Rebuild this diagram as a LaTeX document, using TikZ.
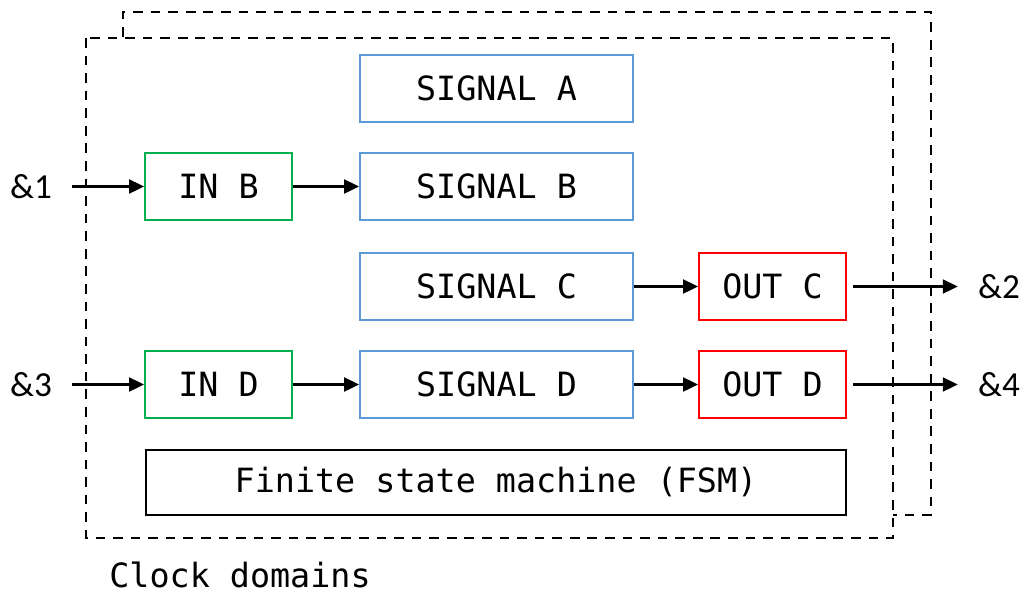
\documentclass[tikz,border=0pt]{standalone}
\usepackage{fontspec}
\setmonofont{DejaVu Sans Mono}
\setsansfont{Carlito}
\usetikzlibrary{arrows.meta}
\definecolor{sigblue}{HTML}{5B9BD5}
\definecolor{ingreen}{HTML}{00B050}
\definecolor{outred}{HTML}{FF0000}
\begin{document}
\begin{tikzpicture}[x=0.02cm,y=-0.02cm,
    box/.style={draw,line width=1.1pt,inner sep=0pt,minimum height=1.34cm,
                font=\ttfamily\fontsize{19}{23}\selectfont},
    sigbox/.style={box,draw=sigblue,minimum width=5.46cm},
    inbox/.style={box,draw=ingreen,minimum width=2.94cm},
    outbox/.style={box,draw=outred,minimum width=2.94cm},
    port/.style={inner sep=0.4cm,font=\sffamily\fontsize{20}{24}\selectfont},
    frame/.style={line width=1.4pt,dash pattern=on 5.5pt off 4.5pt},
    link/.style={line width=1.2pt,-{Triangle[length=0.3cm,width=0.28cm]}}]
  \useasboundingbox (0,0) rectangle (1023,596);

% clock domain frames
  \draw[frame] (123,37) -- (123,12) -- (931,12) -- (931,515) -- (893,515);
  \draw[frame] (86,38) rectangle (893,538);

% signals
  \node[sigbox] (sigA) at (496.5,88.5) {SIGNAL A};
  \node[sigbox] (sigB) at (496.5,186.5) {SIGNAL B};
  \node[sigbox] (sigC) at (496.5,286.5) {SIGNAL C};
  \node[sigbox] (sigD) at (496.5,384.5) {SIGNAL D};

% inputs and outputs
  \node[inbox] (inB) at (218.5,186.5) {IN B};
  \node[inbox] (inD) at (218.5,384.5) {IN D};
  \node[outbox] (outC) at (772.5,286.5) {OUT C};
  \node[outbox] (outD) at (772.5,384.5) {OUT D};

% state machine
  \node[box,minimum width=14cm,minimum height=1.3cm] (fsm) at (496,482.5) {Finite state machine (FSM)};

% ports
  \node[port] (p1) at (31,186.5) {\&1};
  \node[port] (p3) at (31,384.5) {\&3};
  \node[port] (p2) at (999,286.5) {\&2};
  \node[port] (p4) at (999,384.5) {\&4};

  \draw[link] (p1) -- (inB);
  \draw[link] (inB) -- (sigB);
  \draw[link] (p3) -- (inD);
  \draw[link] (inD) -- (sigD);
  \draw[link] (sigC) -- (outC);
  \draw[link] (sigD) -- (outD);
  \draw[link,shorten <=0.12cm] (outC) -- (p2);
  \draw[link,shorten <=0.12cm] (outD) -- (p4);

% caption
  \node[inner sep=0pt,font=\ttfamily\fontsize{19}{23}\selectfont] (cap) at (240,575) {Clock domains};

\end{tikzpicture}
\end{document}
